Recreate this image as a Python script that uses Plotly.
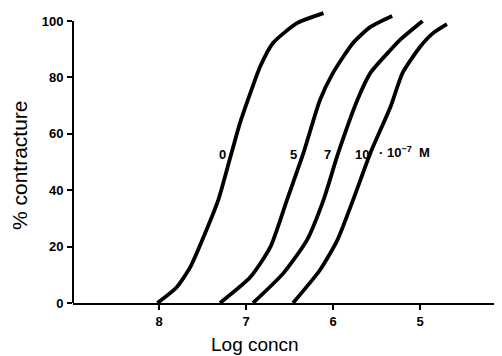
import plotly.graph_objects as go

# -log concentration (axis runs 8 -> 4 left to right) and % contracture
x_c0 = [8.02, 7.80, 7.64, 7.47, 7.32, 7.18, 7.07, 6.95, 6.84, 6.69, 6.41, 6.11]
y_c0 = [0, 5.5, 12.8, 24.8, 36.5, 51.8, 63.8, 74.5, 83.7, 92.2, 99.3, 102.8]

x_c5 = [7.30, 6.95, 6.72, 6.53, 6.34, 6.15, 6.00, 5.77, 5.57, 5.32]
y_c5 = [0, 9.2, 19.9, 36.5, 53.2, 72.0, 81.6, 92.2, 97.9, 101.8]

x_c7 = [6.92, 6.57, 6.30, 6.11, 5.94, 5.72, 5.57, 5.34, 5.23, 4.97]
y_c7 = [0, 10.6, 22.3, 36.5, 53.2, 72.0, 81.6, 89.7, 93.3, 100.0]

x_c10 = [6.46, 6.15, 5.95, 5.77, 5.57, 5.34, 5.20, 5.00, 4.85, 4.69]
y_c10 = [0, 11.7, 22.3, 36.5, 53.2, 69.5, 81.6, 90.8, 95.7, 98.9]

x_ticks = [8, 7, 6, 5]
y_ticks = [0, 20, 40, 60, 80, 100]
curve_labels = ["0", "5", "7", "10"]
x_title = "Log concn"
y_title = "% contracture"

series = [(x_c0, y_c0), (x_c5, y_c5), (x_c7, y_c7), (x_c10, y_c10)]

X_RANGE = [8.99, 4.057]

fig = go.Figure()
for (xs, ys), name in zip(series, curve_labels):
    fig.add_trace(go.Scatter(x=xs, y=ys, mode="lines", name=name,
                             line=dict(color="black", width=3.8, shape="spline", smoothing=0.6),
                             showlegend=False))

FAM = "Liberation Sans, Arial"
tickfont = dict(family=FAM, size=13, color="black", weight="bold")
fig.update_layout(
    width=494, height=348,
    margin=dict(l=65, r=0, t=2, b=53),
    paper_bgcolor="white", plot_bgcolor="white",
    xaxis=dict(range=X_RANGE, tickvals=x_ticks, ticktext=[str(t) for t in x_ticks],
               automargin=False,
               showgrid=False, zeroline=False, showline=True, linecolor="black", linewidth=2,
               ticks="outside", ticklen=5, tickwidth=1.5, tickcolor="black",
               tickfont=tickfont),
    yaxis=dict(range=[0, 103.9], tickvals=y_ticks, showgrid=False, zeroline=False, showline=False,
               automargin=False,
               ticks="outside", ticklen=5, tickwidth=1.5, tickcolor="black",
               ticklabelstandoff=1,
               tickfont=tickfont),
)

# y axis line only up to 100
fig.add_shape(type="line", xref="paper", yref="y", x0=0, x1=0, y0=0, y1=100,
              line=dict(color="black", width=2))

# axis titles
fig.add_annotation(xref="paper", yref="paper", x=0.424, y=-0.141, text=x_title,
                   showarrow=False, xanchor="center", yanchor="middle",
                   font=dict(family=FAM, size=19, color="black"))
fig.add_annotation(xref="paper", yref="paper", x=-0.1235, y=0.471, text=y_title,
                   textangle=-90, showarrow=False, xanchor="center", yanchor="middle",
                   font=dict(family=FAM, size=21, color="black"))

# partially visible "4" tick at the right edge
x4 = 4
fig.add_annotation(xref="paper", yref="paper", x=1.0, y=0, xanchor="left",
                   yshift=-17, xshift=-4, text=str(x4), showarrow=False, font=tickfont)

lab_font = dict(family=FAM, size=13, color="black", weight="bold")
label_pos = [(7.276, 52.8), (6.46, 52.8), (6.06, 52.8), (5.67, 52.5)]
for (lx, ly), txt in zip(label_pos, curve_labels):
    fig.add_annotation(x=lx, y=ly, text=txt, showarrow=False, font=lab_font)
fig.add_annotation(x=5.50, y=53.5, text="· 10<sup>−7</sup>  M", xanchor="left", showarrow=False, font=lab_font)

fig.write_html("out.html")
